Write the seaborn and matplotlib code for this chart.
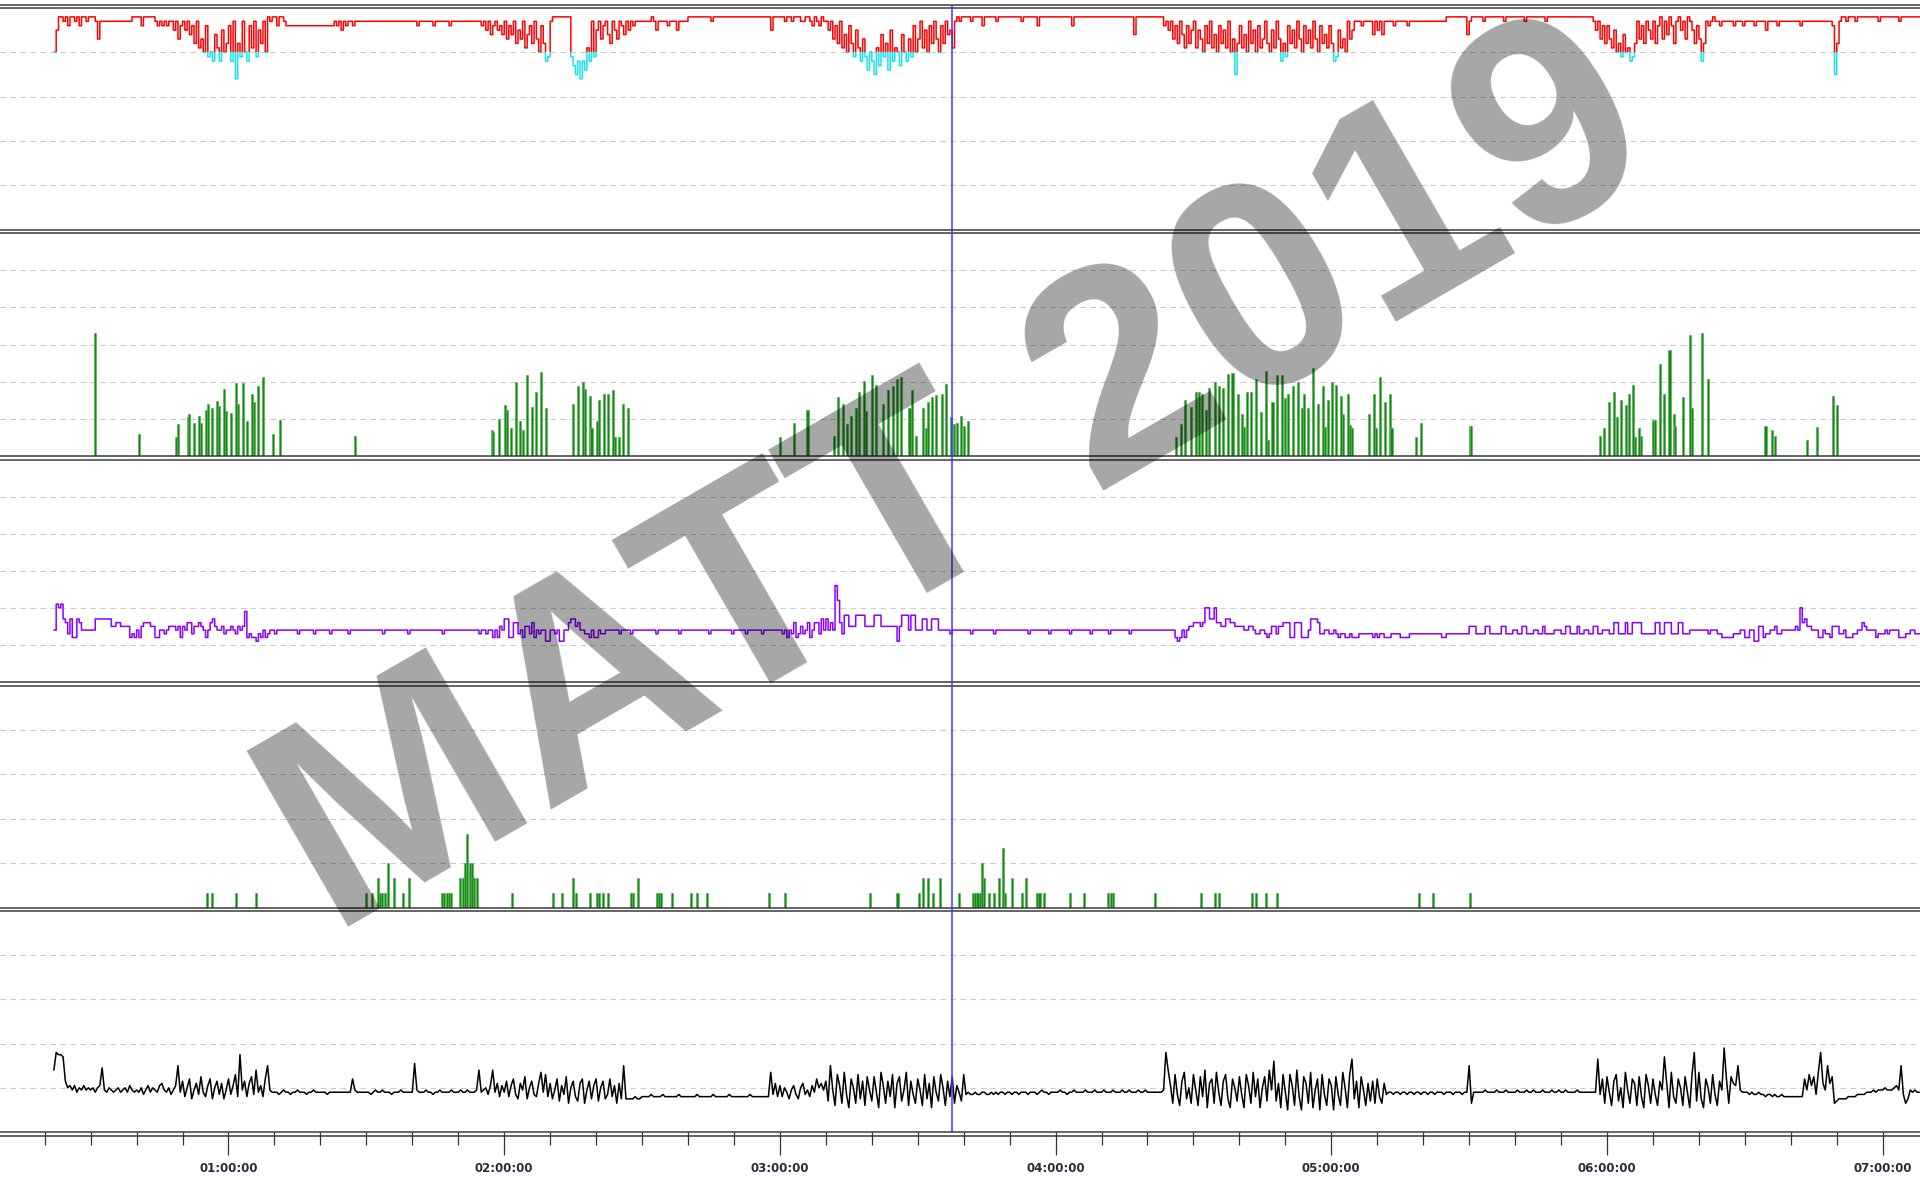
import numpy as np
import matplotlib
matplotlib.use("Agg")
import matplotlib.pyplot as plt
from matplotlib.patches import Rectangle
from matplotlib.lines import Line2D
import seaborn as sns

# one value per 30 s epoch, recording starts at 00:22:00
# each row below covers 10 minutes (first and last rows 8 minutes)
spo2 = [
    90, 95, 98, 98, 97, 98, 96, 98, 98, 97, 98, 96, 98, 98, 97, 98,
    98, 98, 97, 93, 97, 97, 97, 97, 97, 97, 97, 97, 97, 97, 97, 97, 97, 97, 98, 98,
    98, 98, 96, 98, 98, 98, 98, 98, 97, 96, 97, 96, 97, 96, 97, 97, 95, 97, 93, 96,
    97, 95, 97, 94, 96, 92, 97, 91, 93, 90, 96, 89, 90, 88, 94, 91, 88, 95, 90, 92,
    96, 88, 97, 84, 92, 89, 97, 90, 88, 96, 91, 97, 89, 95, 92, 97, 90, 98, 97, 98,
    98, 96, 98, 98, 97, 96, 96, 96, 96, 96, 96, 96, 96, 96, 96, 96, 96, 96, 96, 96,
    96, 96, 96, 96, 96, 96, 97, 96, 97, 95, 97, 96, 97, 97, 96, 97, 97, 97, 97, 97,
    97, 97, 97, 97, 97, 97, 97, 97, 97, 97, 97, 97, 97, 97, 97, 97, 97, 97, 97, 97,
    97, 97, 96, 97, 97, 97, 97, 97, 97, 96, 97, 97, 97, 97, 97, 97, 96, 97, 97, 97,
    97, 97, 97, 97, 97, 97, 97, 97, 97, 97, 96, 97, 95, 97, 94, 96, 97, 95, 96, 94,
    97, 93, 96, 94, 97, 92, 95, 93, 97, 91, 94, 96, 92, 97, 93, 90, 96, 92, 88, 89,
    97, 98, 98, 98, 98, 98, 98, 98, 98, 89, 87, 85, 88, 84, 88, 86, 91, 88, 97, 89,
    95, 97, 93, 96, 97, 94, 92, 97, 95, 93, 97, 96, 94, 97, 95, 97, 96, 97, 97, 97,
    97, 97, 97, 97, 98, 97, 95, 97, 97, 97, 97, 96, 97, 97, 97, 95, 97, 97, 97, 97,
    98, 98, 98, 98, 98, 98, 98, 98, 98, 98, 97, 98, 98, 98, 98, 98, 98, 98, 98, 98,
    98, 98, 98, 98, 98, 98, 98, 98, 98, 98, 98, 98, 98, 98, 98, 98, 95, 98, 98, 98,
    98, 98, 97, 98, 98, 97, 98, 98, 98, 97, 97, 98, 98, 97, 96, 98, 97, 96, 98, 97,
    97, 95, 97, 93, 96, 92, 97, 91, 94, 90, 96, 92, 89, 95, 91, 88, 93, 89, 86, 90,
    88, 85, 91, 87, 94, 89, 92, 86, 95, 88, 91, 90, 87, 94, 90, 88, 93, 89, 96, 90,
    93, 97, 91, 95, 90, 96, 92, 97, 93, 90, 96, 92, 97, 94, 95, 91, 97, 98, 97, 98,
    98, 98, 98, 97, 98, 98, 98, 98, 96, 98, 98, 98, 98, 98, 97, 98, 98, 98, 98, 98,
    98, 98, 98, 98, 98, 97, 98, 98, 98, 98, 98, 98, 96, 98, 98, 98, 98, 98, 98, 98,
    98, 98, 98, 98, 98, 98, 98, 96, 98, 98, 98, 98, 98, 98, 98, 98, 98, 98, 98, 98,
    98, 98, 98, 98, 98, 98, 98, 98, 98, 98, 98, 98, 98, 98, 94, 98, 98, 98, 98, 98,
    98, 98, 98, 98, 98, 98, 98, 96, 97, 95, 97, 93, 96, 92, 97, 94, 91, 96, 92, 95,
    97, 91, 95, 93, 90, 96, 92, 97, 91, 94, 90, 96, 92, 95, 91, 97, 90, 93, 85, 92,
    96, 91, 94, 90, 97, 92, 95, 90, 96, 91, 93, 97, 92, 90, 95, 91, 97, 93, 88, 92,
    89, 96, 92, 95, 91, 97, 93, 90, 96, 92, 95, 91, 97, 93, 90, 96, 92, 94, 91, 96,
    92, 88, 89, 95, 91, 93, 90, 97, 93, 95, 97, 97, 97, 96, 97, 97, 97, 97, 94, 97,
    95, 97, 94, 97, 97, 97, 97, 96, 97, 97, 97, 97, 97, 96, 97, 97, 97, 97, 97, 97,
    97, 97, 97, 97, 97, 97, 97, 97, 97, 97, 98, 98, 98, 98, 98, 98, 98, 98, 98, 94,
    97, 98, 98, 98, 98, 98, 97, 98, 98, 98, 98, 98, 98, 98, 98, 97, 98, 98, 98, 98,
    98, 98, 98, 98, 97, 98, 98, 98, 98, 98, 98, 98, 98, 97, 98, 98, 98, 98, 98, 98,
    98, 98, 98, 98, 98, 98, 98, 98, 98, 98, 98, 98, 98, 98, 97, 95, 97, 93, 96, 92,
    96, 93, 91, 95, 90, 92, 89, 94, 90, 91, 88, 89, 92, 97, 93, 96, 92, 97, 95, 93,
    97, 92, 96, 98, 93, 97, 94, 98, 96, 92, 97, 98, 95, 97, 93, 98, 97, 95, 92, 96,
    93, 88, 92, 97, 96, 97, 98, 97, 97, 96, 97, 97, 97, 97, 97, 96, 97, 97, 97, 96,
    97, 97, 97, 97, 96, 97, 97, 97, 97, 95, 97, 97, 97, 97, 96, 97, 97, 97, 97, 97,
    97, 97, 97, 97, 96, 97, 97, 97, 97, 97, 97, 97, 97, 97, 97, 97, 97, 97, 96, 85,
    92, 97, 98, 98, 97, 98, 98, 98, 97, 98, 98, 98, 98, 98, 98, 98, 98, 98, 97, 98,
    98, 98, 98, 98, 98, 98, 98, 97, 98, 98, 98, 98, 98, 98, 98, 98,
]

effort = [
    14, 21, 20, 21, 17, 16, 13, 17, 12, 12, 17, 16, 14, 14, 14, 14,
    14, 14, 17, 17, 17, 17, 17, 17, 17, 15, 15, 16, 16, 15, 15, 15, 15, 12, 13, 12,
    14, 12, 15, 16, 16, 16, 15, 15, 12, 12, 14, 14, 13, 14, 15, 15, 15, 14, 15, 12,
    15, 14, 16, 16, 13, 15, 15, 16, 15, 14, 12, 14, 16, 17, 15, 14, 14, 15, 13, 14,
    14, 15, 14, 13, 15, 14, 15, 19, 12, 13, 12, 12, 11, 13, 12, 14, 12, 13, 14, 14,
    13, 14, 14, 14, 14, 14, 14, 14, 14, 14, 13, 14, 14, 14, 14, 14, 14, 13, 14, 14,
    14, 14, 14, 14, 13, 14, 14, 14, 14, 14, 14, 14, 13, 14, 14, 14, 14, 14, 14, 14,
    14, 14, 14, 14, 14, 14, 14, 13, 14, 14, 14, 14, 14, 14, 14, 14, 14, 14, 13, 14,
    14, 14, 14, 14, 14, 14, 14, 14, 14, 14, 14, 14, 14, 13, 14, 14, 14, 14, 14, 14,
    14, 14, 14, 14, 14, 14, 14, 14, 14, 13, 14, 14, 13, 14, 14, 12, 14, 12, 15, 14,
    17, 17, 12, 12, 16, 16, 13, 14, 12, 15, 15, 13, 16, 12, 14, 13, 14, 14, 11, 11,
    14, 14, 13, 14, 11, 11, 14, 14, 16, 17, 17, 15, 16, 14, 14, 13, 13, 12, 14, 12,
    12, 14, 13, 13, 14, 14, 14, 14, 14, 14, 13, 14, 14, 14, 14, 13, 14, 14, 14, 14,
    14, 14, 14, 14, 14, 14, 13, 14, 14, 14, 14, 14, 14, 14, 14, 14, 13, 14, 14, 14,
    14, 14, 14, 14, 14, 14, 14, 14, 14, 13, 14, 14, 14, 14, 14, 14, 14, 14, 14, 13,
    14, 14, 14, 14, 14, 13, 14, 14, 14, 14, 14, 14, 13, 14, 14, 14, 14, 14, 14, 14,
    14, 13, 14, 12, 14, 13, 16, 12, 13, 15, 13, 14, 16, 12, 14, 16, 16, 13, 17, 14,
    17, 14, 16, 14, 26, 22, 16, 13, 18, 18, 15, 15, 15, 18, 18, 18, 18, 15, 15, 15,
    15, 18, 18, 18, 15, 15, 15, 15, 15, 15, 15, 11, 15, 18, 18, 18, 14, 18, 18, 14,
    14, 14, 17, 17, 14, 14, 17, 17, 17, 14, 14, 14, 14, 14, 13, 14, 14, 14, 14, 14,
    14, 14, 14, 13, 14, 14, 14, 14, 14, 14, 14, 14, 14, 13, 14, 14, 14, 14, 14, 14,
    14, 14, 14, 14, 14, 14, 14, 14, 13, 14, 14, 14, 14, 14, 14, 14, 14, 13, 14, 14,
    14, 14, 14, 14, 14, 14, 13, 14, 14, 14, 14, 14, 14, 14, 14, 13, 14, 14, 14, 14,
    14, 14, 14, 13, 14, 14, 14, 14, 14, 14, 14, 14, 13, 14, 14, 14, 14, 14, 14, 14,
    14, 14, 14, 14, 14, 14, 14, 14, 14, 14, 14, 14, 12, 11, 12, 14, 12, 14, 15, 15,
    16, 16, 16, 15, 16, 20, 20, 17, 17, 20, 16, 16, 15, 15, 17, 17, 16, 16, 15, 15,
    15, 15, 14, 14, 15, 15, 14, 13, 13, 14, 14, 13, 12, 13, 15, 15, 13, 15, 15, 16,
    16, 16, 12, 12, 16, 16, 16, 12, 12, 12, 14, 17, 17, 17, 16, 13, 13, 14, 14, 13,
    13, 14, 13, 12, 13, 13, 12, 12, 13, 12, 12, 12, 13, 13, 13, 13, 13, 13, 12, 13,
    12, 13, 13, 12, 12, 12, 13, 13, 13, 13, 12, 12, 12, 12, 13, 13, 13, 13, 13, 13,
    13, 13, 13, 13, 13, 13, 13, 13, 12, 12, 13, 13, 13, 13, 13, 13, 13, 13, 13, 13,
    15, 15, 15, 13, 13, 13, 13, 15, 15, 13, 13, 13, 13, 13, 15, 15, 13, 13, 13, 14,
    14, 13, 13, 15, 15, 13, 13, 13, 14, 14, 13, 13, 15, 13, 13, 13, 13, 14, 14, 14,
    13, 13, 15, 15, 13, 13, 13, 15, 13, 13, 14, 14, 13, 13, 15, 15, 13, 13, 14, 14,
    14, 13, 13, 16, 16, 13, 13, 13, 16, 13, 13, 16, 16, 16, 16, 13, 13, 13, 13, 13,
    13, 16, 16, 13, 13, 16, 16, 16, 13, 13, 13, 16, 16, 13, 13, 13, 14, 14, 14, 14,
    14, 14, 14, 14, 13, 14, 14, 14, 13, 13, 12, 12, 12, 12, 12, 13, 13, 13, 14, 14,
    12, 12, 14, 14, 11, 11, 15, 15, 12, 13, 13, 14, 14, 15, 13, 13, 14, 14, 14, 14,
    14, 14, 15, 14, 20, 16, 17, 15, 15, 14, 14, 14, 12, 12, 14, 13, 13, 12, 15, 15,
    15, 13, 13, 14, 12, 12, 12, 13, 13, 14, 14, 16, 15, 14, 14, 14, 14, 12, 13, 13,
    13, 14, 13, 14, 14, 14, 14, 12, 12, 12, 13, 13, 14, 14, 13, 13,
]

pulse = [
    28, 36, 35, 35, 34, 23, 20, 21, 19, 21, 18, 20, 19, 21, 19, 20,
    19, 20, 18, 20, 21, 29, 19, 18, 20, 19, 18, 19, 20, 18, 19, 20, 18, 21, 19, 18,
    19, 18, 20, 17, 19, 21, 18, 20, 19, 18, 21, 22, 19, 18, 20, 17, 19, 21, 30, 18,
    23, 16, 20, 24, 15, 19, 22, 17, 25, 18, 16, 21, 24, 15, 20, 23, 17, 22, 15, 19,
    24, 17, 21, 26, 16, 35, 19, 23, 16, 22, 25, 17, 28, 18, 21, 16, 24, 30, 19, 18,
    18, 18, 17, 18, 19, 18, 18, 17, 18, 18, 19, 18, 18, 18, 17, 18, 18, 19, 18, 18,
    18, 18, 18, 17, 18, 18, 18, 18, 18, 18, 18, 18, 18, 18, 24, 19, 18, 18, 18, 18,
    18, 18, 17, 18, 19, 18, 18, 19, 18, 18, 18, 17, 18, 18, 18, 19, 18, 18, 18, 18,
    18, 31, 19, 18, 18, 18, 19, 18, 18, 17, 18, 18, 19, 18, 18, 18, 18, 19, 18, 18,
    18, 19, 18, 18, 19, 18, 18, 18, 19, 28, 18, 19, 20, 17, 21, 28, 18, 22, 16, 21,
    18, 23, 16, 21, 24, 17, 15, 22, 19, 25, 15, 20, 23, 17, 16, 22, 27, 18, 26, 16,
    22, 15, 19, 24, 14, 21, 17, 25, 13, 20, 23, 16, 14, 22, 24, 13, 19, 23, 15, 21,
    24, 14, 20, 23, 15, 17, 24, 16, 21, 13, 22, 15, 30, 15, 15, 15, 15, 16, 15, 15,
    16, 16, 16, 16, 17, 16, 16, 16, 16, 17, 16, 16, 16, 16, 16, 16, 17, 16, 16, 16,
    16, 16, 16, 16, 17, 16, 16, 16, 16, 16, 16, 17, 16, 16, 16, 16, 16, 16, 17, 16,
    16, 16, 16, 16, 16, 16, 16, 17, 16, 16, 16, 16, 16, 16, 16, 16, 27, 17, 22, 16,
    21, 16, 20, 18, 15, 19, 21, 17, 15, 20, 22, 17, 19, 16, 21, 18, 24, 20, 22, 19,
    23, 14, 30, 19, 12, 26, 21, 13, 27, 17, 11, 24, 20, 13, 26, 15, 23, 12, 25, 19,
    14, 25, 18, 11, 27, 21, 13, 23, 16, 26, 11, 22, 25, 14, 19, 27, 12, 23, 17, 13,
    24, 19, 12, 26, 15, 22, 11, 25, 18, 14, 26, 20, 12, 23, 16, 25, 13, 21, 18, 14,
    26, 17, 18, 17, 17, 18, 17, 17, 18, 18, 17, 17, 18, 17, 18, 17, 18, 18, 17, 18,
    18, 17, 18, 18, 17, 18, 18, 18, 17, 18, 18, 18, 17, 18, 19, 18, 18, 17, 18, 18,
    18, 18, 19, 18, 18, 17, 18, 18, 19, 18, 18, 18, 18, 19, 18, 18, 18, 19, 18, 18,
    18, 19, 18, 18, 18, 19, 18, 18, 18, 19, 18, 18, 19, 18, 18, 18, 19, 18, 18, 19,
    18, 18, 18, 18, 18, 18, 18, 19, 36, 28, 21, 13, 26, 17, 12, 23, 27, 15, 20, 13,
    26, 19, 12, 25, 16, 28, 11, 22, 24, 13, 27, 18, 12, 23, 26, 15, 11, 24, 20, 14,
    25, 17, 11, 26, 21, 13, 27, 16, 24, 11, 20, 25, 14, 28, 19, 32, 14, 22, 11, 26,
    18, 10, 26, 21, 12, 28, 16, 10, 25, 22, 13, 27, 11, 19, 24, 10, 26, 17, 12, 24,
    21, 10, 25, 17, 12, 27, 20, 11, 26, 33, 15, 23, 11, 25, 19, 12, 22, 14, 23, 13,
    24, 16, 13, 22, 17, 18, 18, 17, 18, 18, 17, 18, 18, 17, 18, 18, 17, 18, 18, 17,
    18, 18, 17, 18, 18, 17, 18, 18, 18, 17, 18, 18, 18, 17, 18, 18, 18, 17, 18, 18,
    30, 13, 18, 18, 18, 18, 18, 19, 18, 18, 18, 18, 19, 18, 18, 18, 19, 18, 18, 18,
    18, 19, 18, 18, 18, 19, 18, 18, 19, 18, 18, 18, 19, 18, 18, 18, 19, 18, 18, 19,
    18, 18, 19, 18, 18, 18, 18, 19, 18, 18, 18, 18, 18, 18, 18, 18, 33, 17, 24, 13,
    25, 18, 12, 23, 26, 14, 20, 11, 27, 19, 13, 24, 22, 12, 25, 16, 11, 26, 21, 13,
    24, 17, 12, 23, 19, 34, 22, 11, 27, 16, 13, 24, 20, 12, 25, 18, 11, 26, 36, 14,
    27, 15, 11, 24, 20, 13, 26, 17, 12, 23, 19, 38, 24, 13, 25, 22, 21, 30, 19, 18,
    18, 18, 17, 18, 17, 17, 18, 17, 17, 16, 17, 17, 16, 17, 16, 16, 17, 16, 16, 16,
    16, 16, 16, 16, 16, 16, 24, 19, 26, 21, 25, 17, 27, 36, 22, 19, 30, 22, 25, 13,
    14, 15, 15, 15, 15, 16, 16, 16, 16, 17, 17, 17, 17, 18, 18, 18, 19, 18, 19, 19,
    19, 20, 19, 19, 19, 20, 21, 19, 30, 17, 13, 15, 19, 18, 19, 18,
]

# bar events: minute of night and height
snore_min = [
    31.0, 40.6, 48.5, 49.0, 51.1, 51.5, 52.4, 53.6, 54.0, 55.1, 55.6, 56.5, 57.5, 58.0,
    59.1, 59.4, 60.6, 61.6, 62.0, 63.1, 64.0, 65.1, 65.6, 66.5, 67.6, 69.6, 71.2,
    87.5,
    117.3, 117.6, 118.8, 120.2, 120.6, 121.5, 122.6, 123.5, 124.0, 125.0, 126.0, 127.0, 128.0, 129.1,
    135.0, 136.0, 137.1, 137.6, 138.6, 139.0, 140.1, 140.6, 141.7, 142.6, 143.6, 144.1, 145.0, 145.9, 147.0,
    180.1, 183.1, 186.0, 191.7, 192.7, 193.7, 194.7, 195.5, 196.5, 197.2, 198.4, 198.8, 200.1, 200.9,
    202.5, 203.5, 204.6, 205.5, 206.4, 208.2, 208.7, 209.6, 211.1, 211.7, 212.2, 213.1, 214.0, 215.3,
    216.2, 217.2, 217.9, 218.6, 219.5, 220.1, 221.0,
    266.3, 267.2, 268.1, 269.4, 270.5, 271.2, 271.9, 272.8, 273.4, 274.6, 275.5, 276.5, 277.6, 278.5,
    279.6, 280.5, 281.1, 281.7, 282.6, 283.7, 284.7, 285.7, 286.3, 287.2, 288.1,
    289.2, 289.9, 290.6, 291.7, 292.7, 293.7, 294.1, 295.0, 296.1, 297.1, 298.1, 298.6, 299.2, 300.1,
    301.1, 302.1, 302.6, 303.6, 304.1, 304.6,
    308.2, 309.2, 309.7, 310.6, 311.7, 312.8, 313.1, 318.5, 319.5, 330.1, 330.5,
    358.5, 359.4, 360.5, 361.6, 362.1, 363.0, 364.1, 364.7, 365.6, 366.1, 367.0, 367.5, 370.0, 370.5,
    371.6, 372.5, 373.6, 374.6, 374.9, 376.5, 378.0, 378.5, 380.6, 382.0,
    394.5, 396.0, 396.6, 403.5, 405.7, 409.1, 410.1,
]
snore_val = [
    33, 6, 5, 8.5, 10.5, 11.3, 9, 10.7, 9, 12.5, 14, 13, 14.7, 13.5,
    18, 12, 11.5, 19.6, 14, 19.6, 9.5, 16.7, 14.5, 18.7, 21.3, 6, 9.6,
    5.3,
    7, 6.5, 10, 13.7, 12.5, 7.5, 20, 9.5, 7, 21.7, 13.2, 17.2, 22.5, 12.8,
    14, 18.7, 20, 18, 16.2, 7.4, 9.5, 15, 16.8, 16.8, 17.7, 5, 5, 14, 13,
    5, 9, 12.5, 5.3, 15.8, 14, 8.5, 10.7, 13, 17.2, 20.2, 12, 21.7, 19,
    14, 17.7, 18.7, 20.8, 21.3, 13, 17.7, 5.3, 13, 7.5, 14.5, 15.8, 16.5, 16.8,
    19.5, 10.5, 8.5, 9, 10.7, 8, 9.5,
    5, 8.5, 15, 13.2, 17.2, 17.2, 16.8, 12.5, 18.3, 20, 18.7, 18.3, 22, 22.3,
    16.8, 11.3, 7.8, 17.2, 17.2, 20.8, 11.8, 22.8, 4.4, 14.5, 21.7,
    21.7, 15.7, 16.8, 18.8, 19.8, 12.8, 16.8, 13, 23.8, 14, 18.8, 7.8, 15, 20,
    19.1, 16.2, 11.3, 16.7, 8.4, 7.6,
    11.3, 16.7, 7.5, 21.3, 14.5, 16.7, 7.5, 5, 9, 8, 8,
    5.3, 7.5, 14.5, 17.2, 10.5, 15, 13.7, 16.8, 19.2, 5, 7.5, 5.3, 9.6, 9.6,
    24.7, 16.7, 28.6, 11.3, 8.2, 15.8, 32.5, 12.8, 33.2, 20.8,
    8.2, 7, 5.3, 4.4, 7.8, 16.2, 13.6,
]

limb_min = [
    55.3, 56.5, 61.6, 66.0,
    90.0, 91.3, 92.5, 93.0, 93.5, 94.0, 94.8, 96.0, 98.0, 99.3,
    106.5, 107.0, 107.5, 108.0, 108.5, 110.3, 111.0, 111.5, 112.0, 112.5, 113.0, 113.5, 114.0,
    121.6, 130.6, 132.5, 134.9, 135.6, 138.6, 140.2, 140.6, 141.5, 142.6, 147.6, 148.1, 149.2,
    153.2, 153.7, 154.2, 156.6, 160.6, 162.0, 164.2, 177.6, 181.2, 199.6, 205.6,
    210.2, 211.2, 212.2, 213.4, 214.9, 218.9,
    222.0, 222.5, 223.0, 223.5, 224.0, 224.5, 225.6, 226.5, 227.6, 228.5, 229.0, 230.6, 232.7, 233.6,
    235.9, 236.5, 237.5, 243.2, 246.1, 251.5, 252.0, 252.5, 261.6, 271.6, 274.7, 275.6,
    282.7, 283.7, 285.7, 288.1, 319.0, 322.1, 330.1,
]
limb_val = [
    1, 1, 1, 1,
    1, 1, 2, 1, 1, 1, 3, 2, 1, 2,
    1, 1, 1, 1, 1, 2, 2, 3, 5, 3, 3, 2, 2,
    1, 1, 1, 2, 1, 1, 1, 1, 1, 1, 1, 1, 2,
    1, 1, 1, 1, 1, 1, 1, 1, 1, 1, 1,
    1, 2, 2, 1, 2, 1,
    1, 1, 1, 1, 3, 2, 1, 1, 2, 4, 1, 2, 1, 2,
    1, 1, 1, 1, 1, 1, 1, 1, 1, 1, 1, 1,
    1, 1, 1, 1, 1, 1, 1,
]

hour_ticks = [1, 2, 3, 4, 5, 6, 7]
hour_labels = ["01:00:00", "02:00:00", "03:00:00", "04:00:00", "05:00:00", "06:00:00", "07:00:00"]

START_MIN = 22.0   # first epoch
EPOCH_MIN = 0.5
T_LEFT, T_RIGHT = 0.1712, 7.1353   # visible window in hours
CURSOR_H = 3.6246


def epoch_edges(values):
    return (START_MIN + EPOCH_MIN * np.arange(len(values) + 1)) / 60.0


sns.set_style("white")
plt.rcParams["font.family"] = ["DejaVu Sans"]

W, H = 1920, 1177
fig = plt.figure(figsize=(W / 100, H / 100), dpi=100, facecolor="white")


def px_axes(top, bottom):
    return fig.add_axes([0, 1 - bottom / H, 1, (bottom - top) / H])


# panel bounds in pixels from the top
bounds = [(8, 229.5), (233, 456), (459.5, 682), (685.5, 907.5), (911, 1132)]
limits = [(50, 100), (0, 60), (0, 60), (0, 15), (0, 100)]
grids = [[60, 70, 80, 90], [10, 20, 30, 40, 50], [10, 20, 30, 40, 50], [3, 6, 9, 12], [20, 40, 60, 80]]

axes = []
for (top, bottom), lim, g in zip(bounds, limits, grids):
    ax = px_axes(top, bottom)
    ax.set_xlim(T_LEFT, T_RIGHT)
    ax.set_ylim(*lim)
    ax.set_yticks(g)
    ax.set_xticks([])
    ax.yaxis.grid(True, color="#cccccc", linewidth=0.8, linestyle=(0, (5, 4)))
    ax.xaxis.grid(False)
    ax.tick_params(left=False, labelleft=False, bottom=False, labelbottom=False)
    for side in ("left", "right"):
        ax.spines[side].set_visible(False)
    for side in ("top", "bottom"):
        ax.spines[side].set_color("#3a3a3a")
        ax.spines[side].set_linewidth(1.1)
    ax.set_axisbelow(True)
    axes.append(ax)

ax1, ax2, ax3, ax4, ax5 = axes

# saturation: red above 90 %, cyan below
t = epoch_edges(spo2)
y = spo2 + spo2[-1:]
sns.lineplot(x=t, y=y, ax=ax1, color="#ff0000", linewidth=1.1,
             drawstyle="steps-post", estimator=None, sort=False)
ax1.lines[-1].set_clip_path(Rectangle((T_LEFT, 90), T_RIGHT - T_LEFT, 20, transform=ax1.transData))
sns.lineplot(x=t, y=y, ax=ax1, color="#19e3f0", linewidth=1.1,
             drawstyle="steps-post", estimator=None, sort=False)
ax1.lines[-1].set_clip_path(Rectangle((T_LEFT, 40), T_RIGHT - T_LEFT, 50, transform=ax1.transData))

# green event bars
n = min(len(snore_min), len(snore_val))
ax2.bar(np.array(snore_min[:n]) / 60, snore_val[:n], width=0.45 / 60,
        color="#138a13", edgecolor="#58b058", linewidth=0.5)
n = min(len(limb_min), len(limb_val))
ax4.bar(np.array(limb_min[:n]) / 60, limb_val[:n], width=0.45 / 60,
        color="#138a13", edgecolor="#58b058", linewidth=0.5)

# purple step trace
t = epoch_edges(effort)
sns.lineplot(x=t, y=effort + effort[-1:], ax=ax3, color="#8a00ff", linewidth=1.1,
             drawstyle="steps-post", estimator=None, sort=False)

# black trace
t = epoch_edges(pulse)
sns.lineplot(x=t, y=pulse + pulse[-1:], ax=ax5, color="black", linewidth=1.1,
             estimator=None, sort=False)

# time axis
minor = [m / 60 for m in range(20, 430, 10) if m % 60]
ax5.set_xticks(hour_ticks)
ax5.set_xticklabels(hour_labels)
ax5.set_xticks(minor, minor=True)
ax5.set_xlim(T_LEFT, T_RIGHT)
ax5.tick_params(which="both", bottom=True, labelbottom=True, direction="out", color="#333333", width=0.9)
ax5.tick_params(which="major", length=16.5, pad=5, labelsize=8.5, labelcolor="#2b2b3a")
ax5.tick_params(which="minor", length=9.5)
for lab in ax5.get_xticklabels():
    lab.set_fontweight("bold")

# outer double lines
for ypx in (4.5, 1135.5):
    fig.add_artist(Line2D([0, 1], [1 - ypx / H] * 2, transform=fig.transFigure,
                          color="#3a3a3a", linewidth=1.1))

# cursor through all panels
ov = fig.add_axes([0, 1 - 1132 / H, 1, (1132 - 5) / H])
ov.set_xlim(T_LEFT, T_RIGHT)
ov.axis("off")
ov.axvline(CURSOR_H, color="#3b3bff", linewidth=1.1)

# watermark
fig.text(0.500, 0.588, "MATT 2019", rotation=30, rotation_mode="anchor",
         ha="center", va="center", fontsize=213, fontweight="bold",
         family=["Liberation Sans", "DejaVu Sans"], color="black", alpha=0.35, zorder=20)

fig.savefig("out.png", dpi=100, facecolor="white")
